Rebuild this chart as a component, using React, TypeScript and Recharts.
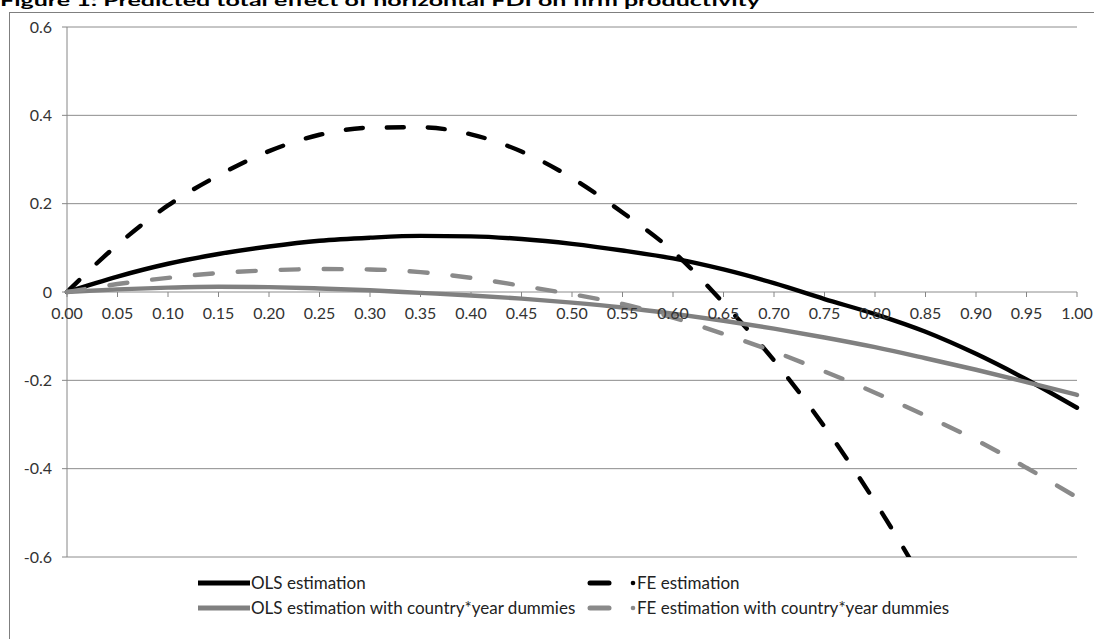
import React from "react";
import {
  LineChart,
  Line,
  XAxis,
  YAxis,
  CartesianGrid,
  ReferenceDot,
  Legend,
} from "recharts";

// x positions (share of horizontal FDI) and tick labels
const xValues = [
  0, 0.05, 0.1, 0.15, 0.2, 0.25, 0.3, 0.35, 0.4, 0.45, 0.5, 0.55, 0.6, 0.65,
  0.7, 0.75, 0.8, 0.85, 0.9, 0.95, 1.0,
];
const xTickLabels = [
  "0.00", "0.05", "0.10", "0.15", "0.20", "0.25", "0.30", "0.35", "0.40",
  "0.45", "0.50", "0.55", "0.60", "0.65", "0.70", "0.75", "0.80", "0.85",
  "0.90", "0.95", "1.00",
];
const yTicks = [-0.6, -0.4, -0.2, 0, 0.2, 0.4, 0.6];

// series
const olsValues = [
  0, 0.035, 0.064, 0.086, 0.103, 0.116, 0.123, 0.127, 0.126, 0.12, 0.109,
  0.094, 0.076, 0.051, 0.02, -0.016, -0.05, -0.09, -0.14, -0.198, -0.262,
];
const feValues = [
  0, 0.107, 0.196, 0.264, 0.319, 0.356, 0.372, 0.373, 0.357, 0.318, 0.258,
  0.18, 0.092, -0.025, -0.155, -0.305, -0.475, -0.665, -0.875, -1.105, -1.355,
];
const olsDummyValues = [
  0, 0.006, 0.01, 0.012, 0.011, 0.008, 0.004, -0.002, -0.008, -0.015, -0.024,
  -0.035, -0.049, -0.065, -0.083, -0.103, -0.125, -0.15, -0.176, -0.204, -0.233,
];
const feDummyValues = [
  0, 0.018, 0.032, 0.043, 0.049, 0.052, 0.051, 0.045, 0.032, 0.014, -0.005,
  -0.027, -0.058, -0.095, -0.135, -0.18, -0.228, -0.28, -0.335, -0.398, -0.465,
];

const series = [
  { key: "ols", name: "OLS estimation", color: "#000000", dash: undefined },
  { key: "fe", name: "FE estimation", color: "#000000", dash: "17 24" },
  { key: "olsDummies", name: "OLS estimation with country*year dummies", color: "#808080", dash: undefined },
  { key: "feDummies", name: "FE estimation with country*year dummies", color: "#8a8a8a", dash: "18 25" },
];

const data = xValues.map((x, i) => ({
  x,
  ols: olsValues[i],
  fe: feValues[i],
  olsDummies: olsDummyValues[i],
  feDummies: feDummyValues[i],
}));

const FONT = "Lato, 'Open Sans', sans-serif";
const AXIS = "#868686";

// legend drawn Excel-style: 2 columns x 2 rows
const renderLegend = () => (
  <svg width={1094} height={60} style={{ display: "block" }}>
    {series.map((s, i) => {
      const col = i % 2;
      const row = Math.floor(i / 2);
      const y = 13 + row * 25;
      const x0 = col === 0 ? 198 : 588;
      const textX = col === 0 ? 251 : 637;
      return (
        <g key={s.key}>
          {s.dash ? (
            <>
              <line x1={x0 + 2} y1={y} x2={x0 + 21} y2={y} stroke={s.color} strokeWidth={5} strokeLinecap="round" />
              <circle cx={x0 + 45} cy={y} r={2.3} fill={s.color} />
            </>
          ) : (
            <line x1={x0} y1={y} x2={x0 + 52} y2={y} stroke={s.color} strokeWidth={5} />
          )}
          <text x={textX} y={y + 6} fontSize={17} fontFamily={FONT} fill="#222">
            {s.name}
          </text>
        </g>
      );
    })}
  </svg>
);

export default function App() {
  return (
    <div style={{ position: "absolute", left: 0, top: 0, width: 1094, height: 639, overflow: "hidden", background: "#fff" }}>
      <svg width={1094} height={20} style={{ position: "absolute", left: 0, top: 0 }}>
        <text x={0} y={5.5} fontSize={16} fontWeight={700} fontFamily={FONT} fill="#000" textLength={760} lengthAdjust="spacingAndGlyphs">
          Figure 1: Predicted total effect of horizontal FDI on firm productivity
        </text>
      </svg>
      <div
        style={{
          position: "absolute",
          left: 9,
          top: 12,
          width: 1100,
          height: 700,
          borderLeft: "1px solid #7f7f7f",
          borderTop: "1px solid #7f7f7f",
        }}
      />
      <div style={{ position: "absolute", left: 0, top: 0 }}>
        <LineChart width={1094} height={639} data={data} margin={{ top: 27, right: 17, bottom: 22, left: 9 }}>
          <CartesianGrid vertical={false} stroke="#8c8c8c" />
          <XAxis type="number" dataKey="x" domain={[0, 1]} hide />
          <YAxis
            type="number"
            domain={[-0.6, 0.6]}
            ticks={yTicks}
            allowDataOverflow
            width={58}
            tickSize={5}
            tickMargin={10}
            axisLine={{ stroke: AXIS }}
            tickLine={{ stroke: AXIS }}
            tick={{ fill: "#333", fontSize: 16, fontFamily: FONT }}
            tickFormatter={(v: number) => (v === 0 ? "0" : v.toFixed(1))}
          />
          {xValues.map((x, i) => (
            <ReferenceDot
              key={`tick-${i}`}
              x={x}
              y={0}
              r={0}
              shape={(p: any) => (
                <g>
                  <line x1={p.cx} y1={p.cy} x2={p.cx} y2={p.cy + 5} stroke={AXIS} />
                  <text x={p.cx} y={p.cy + 27} textAnchor="middle" fontSize={16} fontFamily={FONT} fill="#333">
                    {xTickLabels[i]}
                  </text>
                </g>
              )}
            />
          ))}
          {series.map((s) => (
            <Line
              key={s.key}
              type="monotone"
              dataKey={s.key}
              name={s.name}
              stroke={s.color}
              strokeWidth={4.4}
              strokeDasharray={s.dash}
              strokeLinecap="round"
              dot={false}
              activeDot={false}
              isAnimationActive={false}
            />
          ))}
          <Legend
            content={renderLegend}
            wrapperStyle={{ position: "absolute", left: 0, top: 570, width: 1094, height: 60 }}
          />
        </LineChart>
      </div>
    </div>
  );
}
